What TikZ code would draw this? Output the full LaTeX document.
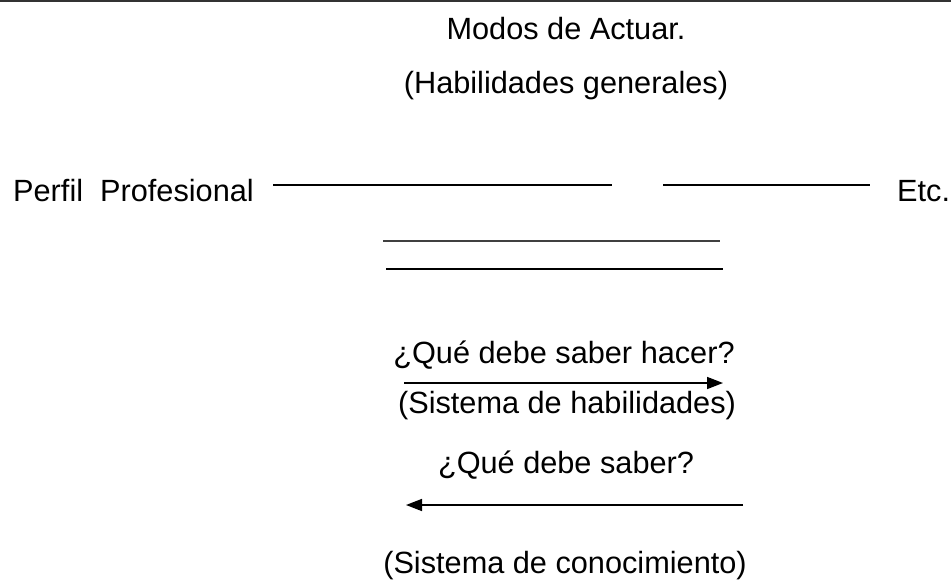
\documentclass[tikz,border=0pt]{standalone}
\usepackage{fontspec}
\setmainfont{Liberation Sans}
\usetikzlibrary{arrows.meta}
\begin{document}
\begin{tikzpicture}[x=1pt,y=-1pt,
  lbl/.style={anchor=base,inner sep=0pt,font=\fontsize{30.7}{36}\selectfont},
  rule/.style={line width=1.6pt,black},
  arr/.style={line width=1.6pt,black,-{Triangle[length=16pt,width=12pt]}}]
\useasboundingbox (0,0) rectangle (951,581);
\fill[white] (0,0) rectangle (951,581);
% top border line
\coordinate (tl) at (0,1);
\coordinate (tr) at (951,1);
\draw[line width=2.2pt,black!80] (tl) -- (tr);
% texts
\node[lbl] (modos) at (566,39) {Modos de Actuar.};
\node[lbl] (habg) at (566,93) {(Habilidades generales)};
\node[lbl,anchor=base west] (perfil) at (13,201) {Perfil\ \ Profesional};
\node[lbl,anchor=base west] (etc) at (897,201) {Etc.};
\node[lbl] (quehacer) at (564,363) {¿Qué debe saber hacer?};
\node[lbl] (sishab) at (567,413) {(Sistema de habilidades)};
\node[lbl] (quesaber) at (566,473) {¿Qué debe saber?};
\node[lbl] (siscon) at (565,573) {(Sistema de conocimiento)};
% lines
\coordinate (l1a) at (273,185); \coordinate (l1b) at (612,185);
\coordinate (l2a) at (663,185); \coordinate (l2b) at (870,185);
\coordinate (l3a) at (383,241); \coordinate (l3b) at (720,241);
\coordinate (l4a) at (386,269); \coordinate (l4b) at (723,269);
\draw[rule] (l1a) -- (l1b);
\draw[rule] (l2a) -- (l2b);
\draw[rule,black!75] (l3a) -- (l3b);
\draw[rule] (l4a) -- (l4b);
% arrows
\coordinate (a1a) at (404,383); \coordinate (a1b) at (723,383);
\coordinate (a2a) at (743,505); \coordinate (a2b) at (406,505);
\draw[arr] (a1a) -- (a1b);
\draw[arr] (a2a) -- (a2b);
\end{tikzpicture}
\end{document}
